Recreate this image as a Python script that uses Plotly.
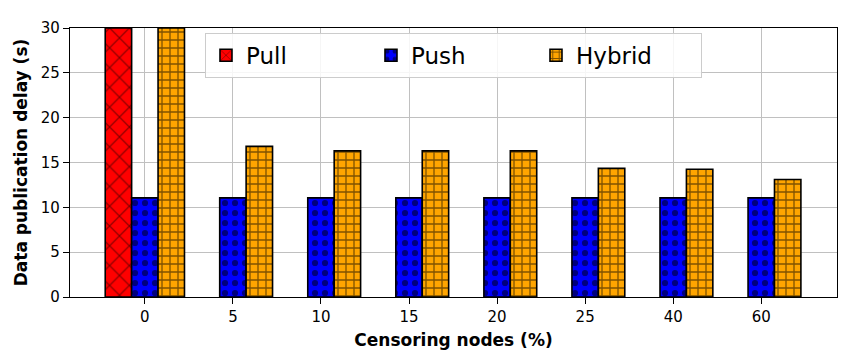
import plotly.graph_objects as go

categories = ["0", "5", "10", "15", "20", "25", "40", "60"]
pull = [30]
push = [11.05, 11.05, 11.05, 11.05, 11.05, 11.05, 11.05, 11.05]
hybrid = [30, 16.8, 16.3, 16.3, 16.3, 14.35, 14.25, 13.1]

idx = list(range(len(categories)))
w = 0.3

fig = go.Figure()
# pull only measured at 0% censoring
fig.add_trace(go.Bar(
    x=idx[:len(pull)], y=pull, name="Pull", width=w, offset=-1.5 * w,
    marker=dict(color="red", line=dict(color="black", width=1.6),
                pattern=dict(shape="x", fgcolor="black", size=14, solidity=0.16)),
))
fig.add_trace(go.Bar(
    x=idx, y=push, name="Push", width=w, offset=-0.5 * w,
    marker=dict(color="blue", line=dict(color="black", width=1.6),
                pattern=dict(shape=".", fgcolor="black", size=10, solidity=0.3)),
))
fig.add_trace(go.Bar(
    x=idx, y=hybrid, name="Hybrid", width=w, offset=0.5 * w,
    marker=dict(color="orange", line=dict(color="black", width=1.6),
                pattern=dict(shape="+", fgcolor="black", size=8, solidity=0.3)),
))

# browser body adds 8px margin, so figure is shrunk by that
fig.update_layout(
    width=847, height=354,
    barmode="overlay",
    plot_bgcolor="white", paper_bgcolor="white",
    font=dict(family="DejaVu Sans", size=15, color="black"),
    margin=dict(l=62, r=18, t=11, b=65),
    legend=dict(
        orientation="h", x=0.176, xanchor="left", y=0.982, yanchor="top",
        font=dict(size=23), bgcolor="rgba(255,255,255,0.85)",
        bordercolor="#cccccc", borderwidth=1, entrywidth=120,
    ),
)
fig.update_xaxes(
    tickvals=idx, ticktext=categories, range=[-0.85, 7.86],
    showgrid=True, gridcolor="#c0c0c0", gridwidth=1,
    showline=True, linecolor="black", linewidth=1.2, mirror=True,
    ticks="outside", ticklen=6, tickcolor="black",
    title=dict(text="<b>Censoring nodes (%)</b>", font=dict(size=17), standoff=9),
)
fig.update_yaxes(
    range=[0, 30], tickvals=[0, 5, 10, 15, 20, 25, 30],
    showgrid=True, gridcolor="#c0c0c0", gridwidth=1,
    showline=True, linecolor="black", linewidth=1.2, mirror=True,
    ticks="outside", ticklen=6, tickcolor="black", zeroline=False,
    title=dict(text="<b>Data publication delay (s)</b>", font=dict(size=17), standoff=8),
)

fig.write_html("out.html")
